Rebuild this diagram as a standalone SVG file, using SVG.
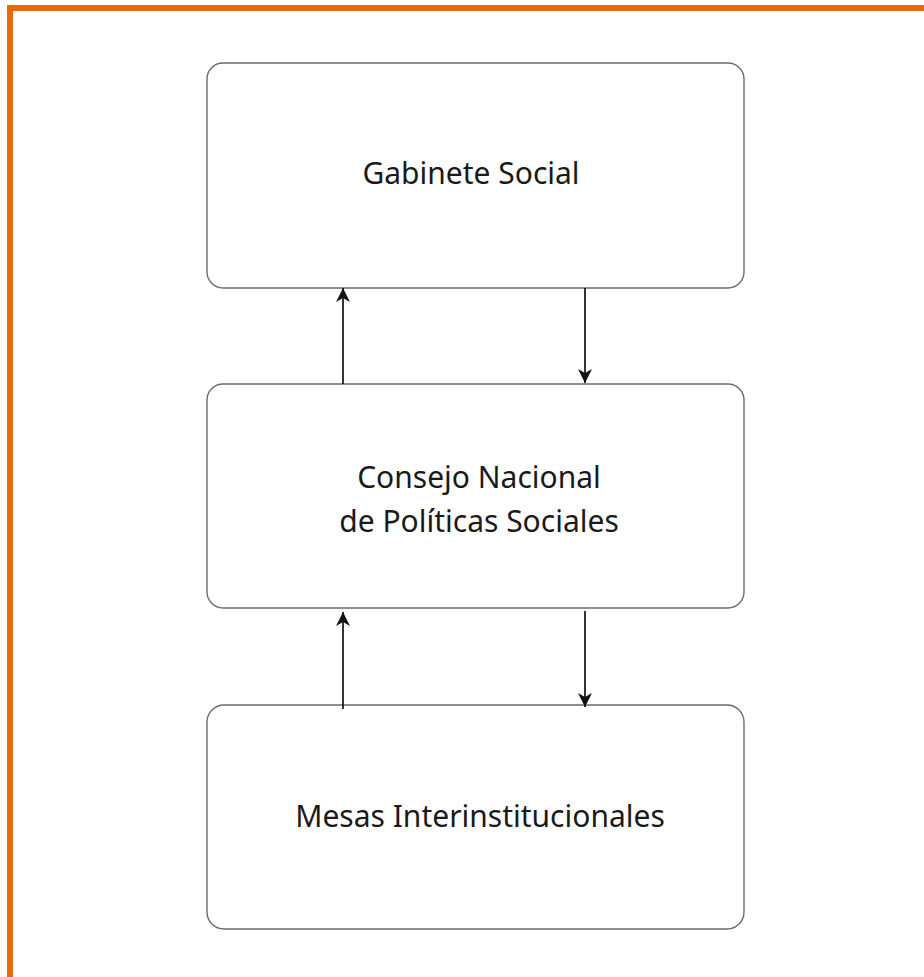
<svg xmlns="http://www.w3.org/2000/svg" width="924" height="977" viewBox="0 0 924 977">
<defs>
<style>
.box{fill:#fff;stroke:#6b6b6b;stroke-width:1.4}
.lbl{font-family:"Noto Sans","Open Sans",sans-serif;font-size:30px;fill:#1a1a1a;text-anchor:middle}
.con{stroke:#111;stroke-width:1.7;fill:none}
</style>
<marker id="ah" viewBox="0 0 14 14" refX="14" refY="7" markerWidth="14" markerHeight="14" markerUnits="userSpaceOnUse" orient="auto">
<path d="M0,0 L14,7 L0,14 L4,7 Z" fill="#111"/>
</marker>
</defs>
<rect x="0" y="0" width="924" height="977" fill="#fff"/>
<rect x="10" y="8" width="930" height="990" fill="none" stroke="#e46c0a" stroke-width="6"/>
<g id="gabinete">
<rect class="box" x="207" y="63" width="537" height="225" rx="16"/>
<text class="lbl" x="471" y="184">Gabinete Social</text>
</g>
<g id="consejo">
<rect class="box" x="207" y="384" width="537" height="224" rx="16"/>
<text class="lbl" x="479" y="488">Consejo Nacional</text>
<text class="lbl" x="479" y="532">de Políticas Sociales</text>
</g>
<g id="mesas">
<rect class="box" x="207" y="705" width="537" height="224" rx="17"/>
<text class="lbl" x="480" y="827">Mesas Interinstitucionales</text>
</g>
<g id="connectors">
<line class="con" x1="343" y1="384" x2="343" y2="288" marker-end="url(#ah)"/>
<line class="con" x1="585" y1="288" x2="585" y2="383" marker-end="url(#ah)"/>
<line class="con" x1="343" y1="709" x2="343" y2="612" marker-end="url(#ah)"/>
<line class="con" x1="585" y1="611" x2="585" y2="707" marker-end="url(#ah)"/>
</g>
</svg>
